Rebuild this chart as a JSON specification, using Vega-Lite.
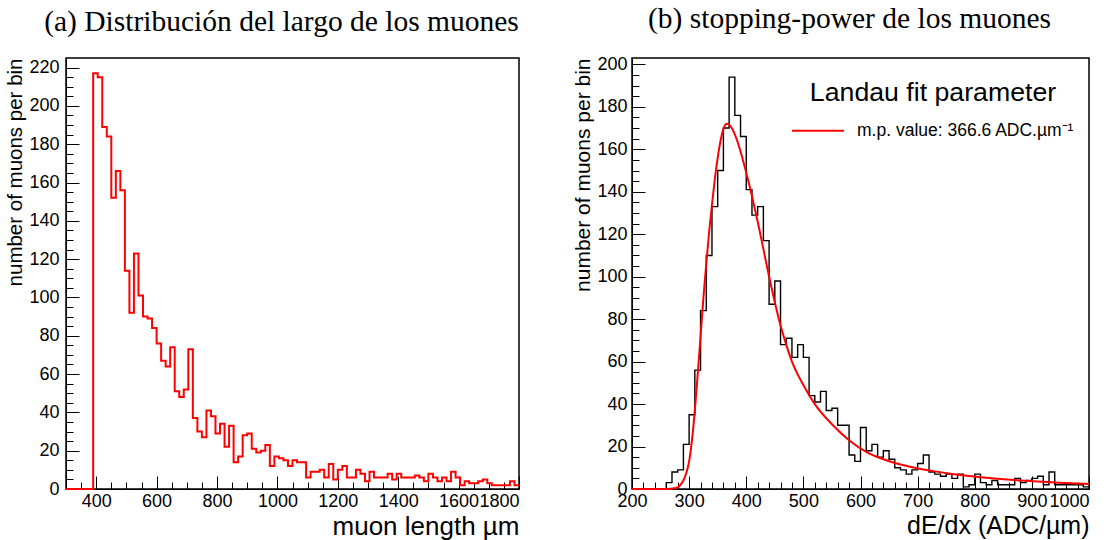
{
  "$schema": "https://vega.github.io/schema/vega-lite/v6.json",
  "padding": {"left": 5, "top": 3, "right": 2, "bottom": 0},
  "background": "white",
  "spacing": 48,
  "config": {
    "view": {"stroke": "black", "strokeWidth": 1.5},
    "font": "Liberation Sans",
    "axis": {
      "labelFont": "Liberation Sans", "labelFontSize": 18, "labelColor": "black",
      "titleFont": "Liberation Sans", "titleFontWeight": "normal", "titleColor": "black",
      "domainColor": "black", "gridOpacity": 0, "tickColor": "black", "tickOpacity": 1
    },
    "title": {"font": "Liberation Serif", "fontSize": 29.5, "fontWeight": "normal", "color": "black", "frame": "group", "dx": -11}
  },
  "hconcat": [
    {
      "width": 453, "height": 431,
      "title": {"text": "(a) Distribución del largo de los muones", "offset": 21},
      "data": {"values": [
        {"x": 300, "n": 0}, {"x": 315, "n": 0}, {"x": 330, "n": 0}, {"x": 345, "n": 0}, {"x": 360, "n": 0}, {"x": 375, "n": 0},
        {"x": 390, "n": 217}, {"x": 405, "n": 215}, {"x": 420, "n": 189}, {"x": 435, "n": 184}, {"x": 450, "n": 152},
        {"x": 465, "n": 166}, {"x": 480, "n": 156}, {"x": 495, "n": 114}, {"x": 510, "n": 92}, {"x": 525, "n": 123},
        {"x": 540, "n": 101}, {"x": 555, "n": 90}, {"x": 570, "n": 89}, {"x": 585, "n": 84}, {"x": 600, "n": 76},
        {"x": 615, "n": 67}, {"x": 630, "n": 64}, {"x": 645, "n": 74}, {"x": 660, "n": 51}, {"x": 675, "n": 48},
        {"x": 690, "n": 52}, {"x": 705, "n": 73}, {"x": 720, "n": 37}, {"x": 735, "n": 30}, {"x": 750, "n": 27},
        {"x": 765, "n": 41}, {"x": 780, "n": 38}, {"x": 795, "n": 29}, {"x": 810, "n": 34}, {"x": 825, "n": 22},
        {"x": 840, "n": 33}, {"x": 855, "n": 14}, {"x": 870, "n": 17}, {"x": 885, "n": 28}, {"x": 900, "n": 29},
        {"x": 915, "n": 21}, {"x": 930, "n": 19}, {"x": 945, "n": 20}, {"x": 960, "n": 23}, {"x": 975, "n": 12},
        {"x": 990, "n": 17}, {"x": 1005, "n": 16}, {"x": 1020, "n": 15}, {"x": 1035, "n": 12}, {"x": 1050, "n": 15},
        {"x": 1065, "n": 14}, {"x": 1080, "n": 14}, {"x": 1095, "n": 6}, {"x": 1110, "n": 9}, {"x": 1125, "n": 9},
        {"x": 1140, "n": 10}, {"x": 1155, "n": 6}, {"x": 1170, "n": 13}, {"x": 1185, "n": 5}, {"x": 1200, "n": 10},
        {"x": 1215, "n": 12}, {"x": 1230, "n": 6}, {"x": 1245, "n": 6}, {"x": 1260, "n": 10}, {"x": 1275, "n": 8},
        {"x": 1290, "n": 4}, {"x": 1305, "n": 9}, {"x": 1320, "n": 6}, {"x": 1335, "n": 6}, {"x": 1350, "n": 6},
        {"x": 1365, "n": 8}, {"x": 1380, "n": 5}, {"x": 1395, "n": 8}, {"x": 1410, "n": 6}, {"x": 1425, "n": 6},
        {"x": 1440, "n": 6}, {"x": 1455, "n": 7}, {"x": 1470, "n": 6}, {"x": 1485, "n": 4}, {"x": 1500, "n": 8},
        {"x": 1515, "n": 6}, {"x": 1530, "n": 4}, {"x": 1545, "n": 6}, {"x": 1560, "n": 4}, {"x": 1575, "n": 9},
        {"x": 1590, "n": 6}, {"x": 1605, "n": 2}, {"x": 1620, "n": 4}, {"x": 1635, "n": 3}, {"x": 1650, "n": 3},
        {"x": 1665, "n": 4}, {"x": 1680, "n": 5}, {"x": 1695, "n": 3}, {"x": 1710, "n": 2}, {"x": 1725, "n": 2},
        {"x": 1740, "n": 2}, {"x": 1755, "n": 2}, {"x": 1770, "n": 4}, {"x": 1785, "n": 2}, {"x": 1800, "n": 2}
      ]},
      "mark": {"type": "line", "interpolate": "step-after", "color": "#ff0000", "strokeWidth": 2},
      "encoding": {
        "x": {"field": "x", "type": "quantitative",
          "scale": {"domain": [300, 1800], "nice": false, "zero": false},
          "axis": {"title": "muon length µm", "titleFontSize": 26, "titleAnchor": "end", "titlePadding": -3,
            "values": [300,350,400,450,500,550,600,650,700,750,800,850,900,950,1000,1050,1100,1150,1200,1250,1300,1350,1400,1450,1500,1550,1600,1650,1700,1750,1800],
            "format": "d", "labelFlush": false, "labelOverlap": false,
            "labelExpr": "datum.value % 200 === 0 ? datum.label : ''",
            "labelAlign": {"condition": {"test": "datum.value === 1800", "value": "right"}, "value": "center"},
            "tickSize": {"condition": {"test": "datum.value % 200 === 0", "value": -13}, "value": -7},
            "labelPadding": 16}},
        "y": {"field": "n", "type": "quantitative",
          "scale": {"domain": [0, 225], "nice": false},
          "axis": {"title": "number of muons per bin", "titleFontSize": 20.5, "titleAnchor": "end", "titlePadding": 3,
            "values": [0,5,10,15,20,25,30,35,40,45,50,55,60,65,70,75,80,85,90,95,100,105,110,115,120,125,130,135,140,145,150,155,160,165,170,175,180,185,190,195,200,205,210,215,220],
            "format": "d", "labelFlush": false, "labelOverlap": false,
            "labelExpr": "datum.value % 20 === 0 ? datum.label : ''",
            "tickSize": {"condition": {"test": "datum.value % 20 === 0", "value": -13}, "value": -7},
            "labelPadding": 20}}
      }
    },
    {
      "width": 457, "height": 431,
      "title": {"text": "(b) stopping-power de los muones", "offset": 21},
      "encoding": {
        "x": {"field": "x", "type": "quantitative",
          "scale": {"domain": [200, 1000], "nice": false, "zero": false},
          "axis": {"title": "dE/dx (ADC/µm)", "titleFontSize": 25, "titleAnchor": "end", "titlePadding": -3,
            "values": [200,220,240,260,280,300,320,340,360,380,400,420,440,460,480,500,520,540,560,580,600,620,640,660,680,700,720,740,760,780,800,820,840,860,880,900,920,940,960,980,1000],
            "format": "d", "labelFlush": false, "labelOverlap": false,
            "labelExpr": "datum.value % 100 === 0 ? datum.label : ''",
            "labelAlign": {"condition": {"test": "datum.value === 1000", "value": "right"}, "value": "center"},
            "tickSize": {"condition": {"test": "datum.value % 100 === 0", "value": -13}, "value": -7},
            "labelPadding": 16}},
        "y": {"field": "n", "type": "quantitative",
          "scale": {"domain": [0, 203], "nice": false},
          "axis": {"title": "number of muons per bin", "titleFontSize": 21, "titleAnchor": "end", "titlePadding": 3,
            "values": [0,5,10,15,20,25,30,35,40,45,50,55,60,65,70,75,80,85,90,95,100,105,110,115,120,125,130,135,140,145,150,155,160,165,170,175,180,185,190,195,200],
            "format": "d", "labelFlush": false, "labelOverlap": false,
            "labelExpr": "datum.value % 20 === 0 ? datum.label : ''",
            "tickSize": {"condition": {"test": "datum.value % 20 === 0", "value": -13}, "value": -7},
            "labelPadding": 18}}
      },
      "layer": [
        {
          "data": {"values": [
            {"x": 200, "n": 0}, {"x": 210, "n": 0}, {"x": 220, "n": 0}, {"x": 230, "n": 0}, {"x": 240, "n": 0}, {"x": 250, "n": 0},
            {"x": 260, "n": 3}, {"x": 270, "n": 8}, {"x": 280, "n": 9}, {"x": 290, "n": 21}, {"x": 300, "n": 35},
            {"x": 310, "n": 56}, {"x": 320, "n": 84}, {"x": 330, "n": 110}, {"x": 340, "n": 133}, {"x": 350, "n": 150},
            {"x": 360, "n": 170}, {"x": 370, "n": 194}, {"x": 380, "n": 176}, {"x": 390, "n": 166}, {"x": 400, "n": 141},
            {"x": 410, "n": 129}, {"x": 420, "n": 133}, {"x": 430, "n": 117}, {"x": 440, "n": 87}, {"x": 450, "n": 98},
            {"x": 460, "n": 68}, {"x": 470, "n": 71}, {"x": 480, "n": 62}, {"x": 490, "n": 68}, {"x": 500, "n": 62},
            {"x": 510, "n": 44}, {"x": 520, "n": 41}, {"x": 530, "n": 46}, {"x": 540, "n": 37}, {"x": 550, "n": 38},
            {"x": 560, "n": 30}, {"x": 570, "n": 30}, {"x": 580, "n": 16}, {"x": 590, "n": 13}, {"x": 600, "n": 29},
            {"x": 610, "n": 18}, {"x": 620, "n": 21}, {"x": 630, "n": 15}, {"x": 640, "n": 18}, {"x": 650, "n": 14},
            {"x": 660, "n": 10}, {"x": 670, "n": 9}, {"x": 680, "n": 7}, {"x": 690, "n": 9}, {"x": 700, "n": 12},
            {"x": 710, "n": 16}, {"x": 720, "n": 8}, {"x": 730, "n": 7}, {"x": 740, "n": 6}, {"x": 750, "n": 7},
            {"x": 760, "n": 5}, {"x": 770, "n": 7}, {"x": 780, "n": 1}, {"x": 790, "n": 2}, {"x": 800, "n": 7},
            {"x": 810, "n": 3}, {"x": 820, "n": 2}, {"x": 830, "n": 4}, {"x": 840, "n": 2}, {"x": 850, "n": 2},
            {"x": 860, "n": 2}, {"x": 870, "n": 5}, {"x": 880, "n": 3}, {"x": 890, "n": 4}, {"x": 900, "n": 5},
            {"x": 910, "n": 6}, {"x": 920, "n": 2}, {"x": 930, "n": 8}, {"x": 940, "n": 2}, {"x": 950, "n": 2},
            {"x": 960, "n": 2}, {"x": 970, "n": 2}, {"x": 980, "n": 2}, {"x": 990, "n": 1}, {"x": 1000, "n": 1}
          ]},
          "mark": {"type": "line", "interpolate": "step-after", "color": "black", "strokeWidth": 1.4}
        },
        {
          "data": {"values": [
            {"x": 200, "n": 0}, {"x": 260, "n": 0}, {"x": 275, "n": 0.3}, {"x": 280, "n": 0.8}, {"x": 285, "n": 2},
            {"x": 290, "n": 4}, {"x": 295, "n": 7.5}, {"x": 300, "n": 13}, {"x": 305, "n": 23}, {"x": 310, "n": 37},
            {"x": 315, "n": 54}, {"x": 320, "n": 72}, {"x": 325, "n": 90}, {"x": 330, "n": 106}, {"x": 335, "n": 121},
            {"x": 340, "n": 134}, {"x": 345, "n": 146}, {"x": 350, "n": 156}, {"x": 355, "n": 164}, {"x": 360, "n": 169.5},
            {"x": 366, "n": 172}, {"x": 372, "n": 171}, {"x": 380, "n": 167}, {"x": 390, "n": 159}, {"x": 400, "n": 149},
            {"x": 410, "n": 138}, {"x": 420, "n": 126}, {"x": 430, "n": 113}, {"x": 440, "n": 100}, {"x": 450, "n": 88},
            {"x": 460, "n": 77}, {"x": 470, "n": 68}, {"x": 480, "n": 60}, {"x": 490, "n": 54}, {"x": 500, "n": 49},
            {"x": 520, "n": 40}, {"x": 550, "n": 30.5}, {"x": 580, "n": 23}, {"x": 610, "n": 17.5}, {"x": 640, "n": 14},
            {"x": 670, "n": 11.5}, {"x": 700, "n": 9.7}, {"x": 730, "n": 8.3}, {"x": 760, "n": 7.1}, {"x": 790, "n": 6.1},
            {"x": 820, "n": 5.3}, {"x": 850, "n": 4.6}, {"x": 880, "n": 4}, {"x": 910, "n": 3.5}, {"x": 940, "n": 3.1},
            {"x": 970, "n": 2.7}, {"x": 1000, "n": 2.4}
          ]},
          "mark": {"type": "line", "interpolate": "monotone", "strokeWidth": 2},
          "encoding": {
            "color": {"datum": "m.p. value: 366.6 ADC.µm⁻¹", "type": "nominal",
              "scale": {"range": ["#ff0000"]},
              "legend": {"title": "Landau fit parameter", "titleFontSize": 26.7, "titleFont": "Liberation Sans",
                "titleFontWeight": "normal", "titleColor": "black", "titleAnchor": "middle", "titlePadding": -3,
                "labelFontSize": 17.5, "labelFont": "Liberation Sans", "labelColor": "black", "labelOffset": 12,
                "symbolType": "stroke", "symbolSize": 2704, "symbolStrokeWidth": 2,
                "orient": "none", "legendX": 725, "legendY": 22, "padding": 0,
                "titleLimit": 400, "labelLimit": 400}}
          }
        }
      ]
    }
  ]
}
